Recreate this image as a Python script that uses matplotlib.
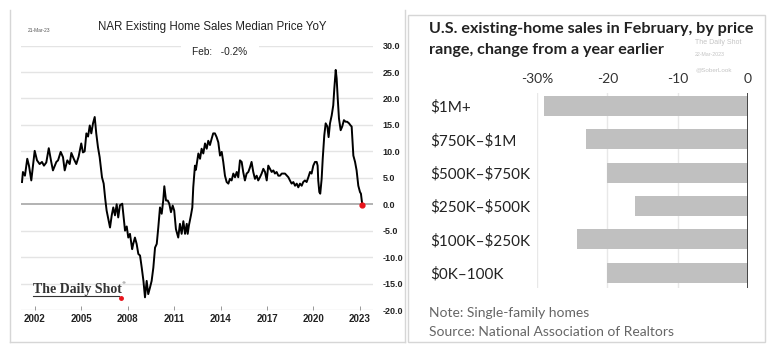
import matplotlib
matplotlib.use('Agg')

import matplotlib.pyplot as plt
from matplotlib.lines import Line2D
from matplotlib.patches import Rectangle

# Left panel: NAR median price YoY (%)
years = [
    2001.16, 2001.22, 2001.35, 2001.50, 2001.61, 2001.76, 2001.98, 2002.13, 2002.30, 2002.45,
    2002.58, 2002.73, 2002.89, 2003.05, 2003.16, 2003.38, 2003.49, 2003.66, 2003.81, 2003.92,
    2004.09, 2004.24, 2004.35, 2004.52, 2004.67, 2004.82, 2004.99, 2005.10, 2005.21, 2005.32,
    2005.43, 2005.54, 2005.64, 2005.75, 2005.86, 2005.96, 2006.07, 2006.18, 2006.33, 2006.44,
    2006.54, 2006.63, 2006.85, 2006.96, 2007.06, 2007.17, 2007.28, 2007.38, 2007.49, 2007.64,
    2007.75, 2007.82, 2007.93, 2008.03, 2008.14, 2008.28, 2008.35, 2008.46, 2008.57, 2008.68,
    2008.79, 2008.90, 2009.01, 2009.11, 2009.22, 2009.32, 2009.43, 2009.54, 2009.65, 2009.76,
    2009.87, 2009.97, 2010.08, 2010.19, 2010.29, 2010.36, 2010.47, 2010.58, 2010.68, 2010.79,
    2010.90, 2011.00, 2011.11, 2011.26, 2011.37, 2011.48, 2011.59, 2011.70, 2011.81, 2011.87,
    2011.95, 2012.08, 2012.17, 2012.23, 2012.34, 2012.40, 2012.56, 2012.67, 2012.77, 2012.88,
    2012.99, 2013.10, 2013.20, 2013.31, 2013.42, 2013.52, 2013.63, 2013.74, 2013.85, 2013.96,
    2014.07, 2014.17, 2014.28, 2014.39, 2014.50, 2014.60, 2014.71, 2014.82, 2014.93, 2015.04,
    2015.14, 2015.25, 2015.36, 2015.46, 2015.57, 2015.68, 2015.79, 2015.90, 2016.00, 2016.11,
    2016.22, 2016.33, 2016.43, 2016.54, 2016.65, 2016.76, 2016.87, 2016.98, 2017.08, 2017.19,
    2017.30, 2017.41, 2017.51, 2017.62, 2017.73, 2017.84, 2017.95, 2018.16, 2018.38, 2018.48,
    2018.59, 2018.70, 2018.81, 2018.92, 2019.02, 2019.13, 2019.24, 2019.34, 2019.45, 2019.56,
    2019.67, 2019.78, 2019.88, 2019.99, 2020.10, 2020.21, 2020.27, 2020.31, 2020.38, 2020.44,
    2020.53, 2020.60, 2020.70, 2020.79, 2020.90, 2020.98, 2021.07, 2021.18, 2021.28, 2021.35,
    2021.44, 2021.50, 2021.57, 2021.65, 2021.76, 2021.86, 2021.97, 2022.08, 2022.18, 2022.30,
    2022.40, 2022.47, 2022.51, 2022.58, 2022.69, 2022.79, 2022.90, 2023.01, 2023.07, 2023.16,
]
yoy = [
    4.2, 6.1, 5.4, 8.6, 7.3, 4.5, 10.1, 8.3, 7.6, 8.0,
    7.3, 7.9, 10.6, 8.0, 6.4, 8.0, 8.3, 9.9, 8.9, 6.4,
    8.3, 7.6, 9.7, 8.5, 7.6, 9.0, 11.5, 9.8, 10.0, 13.4,
    12.8, 14.9, 13.4, 15.3, 16.5, 13.4, 10.8, 8.9, 5.1, 3.9,
    1.0, -1.2, -4.4, -2.1, -0.6, -2.1, 0.0, -2.5, -0.2, 0.1,
    -3.1, -5.0, -4.2, -6.3, -5.6, -8.5, -7.5, -6.3, -7.5, -9.4,
    -9.7, -12.0, -14.5, -17.6, -14.5, -17.0, -15.8, -14.5, -12.0, -8.2,
    -7.5, -4.4, -0.6, -1.8, 0.7, 3.4, 0.7, 0.7, 0.1, -1.5,
    -0.25, -1.2, -4.7, -6.3, -3.7, -5.6, -3.2, -5.6, -3.7, -5.6,
    -4.0, -2.1, -0.6, 3.2, 7.3, 6.5, 9.6, 8.6, 10.5, 9.6,
    11.5, 10.5, 12.0, 11.2, 12.4, 13.4, 13.4, 12.7, 11.7, 9.2,
    9.9, 8.0, 5.4, 4.2, 3.9, 4.8, 4.5, 5.8, 5.1, 6.1,
    5.1, 8.3, 8.0, 6.1, 4.5, 5.8, 6.1, 7.0, 8.0, 6.1,
    4.8, 5.4, 4.5, 5.1, 5.8, 6.7, 6.1, 4.5, 7.3, 6.7,
    6.1, 6.4, 5.8, 6.1, 5.4, 5.4, 5.8, 5.8, 5.1, 4.5,
    3.9, 4.2, 3.5, 3.9, 3.2, 3.9, 3.5, 4.2, 4.5, 4.2,
    5.1, 6.1, 5.8, 7.3, 8.0, 8.0, 7.3, 4.5, 2.3, 2.0,
    4.8, 8.6, 13.0, 15.3, 14.7, 12.7, 15.3, 16.8, 18.7, 21.9,
    25.4, 23.8, 20.0, 16.2, 14.0, 14.7, 15.9, 15.6, 15.6, 15.3,
    14.9, 14.7, 12.7, 9.2, 8.0, 6.4, 3.5, 2.3, 2.0, -0.2,
]
left_yticks = [30, 25, 20, 15, 10, 5, 0, -5, -10, -15, -20]
left_xticks = [2002, 2005, 2008, 2011, 2014, 2017, 2020, 2023]

# Right panel: existing-home sales change by price range (%)
price_ranges = ['$1M+', '$750K–$1M', '$500K–$750K', '$250K–$500K', '$100K–$250K', '$0K–100K']
sales_change = [-29.0, -23.0, -20.0, -16.0, -24.3, -20.0]
right_xticks = [-30, -20, -10, 0]
right_xticklabels = ['-30%', '-20', '-10', '0']

W, H = 771, 348
fig = plt.figure(figsize=(W / 100, H / 100), dpi=100)


def fx(px):
    return px / W


def fy(py):
    return 1 - py / H


# ---- left panel ----
border = '#d6d6d6'
fig.add_artist(Line2D([fx(10), fx(10)], [fy(10), fy(342)], color=border, lw=1))
fig.add_artist(Line2D([fx(405), fx(405)], [fy(10), fy(342)], color=border, lw=1))
fig.add_artist(Line2D([fx(10), fx(405)], [fy(342), fy(342)], color=border, lw=1))

ax1 = fig.add_axes([fx(21), fy(310), fx(373 - 21), fy(45.6) - fy(310)])
for y in left_yticks:
    if y == 0:
        ax1.axhline(y, color='#a6a6a6', lw=1.2, zorder=1)
    else:
        ax1.axhline(y, color='#e4e4e4', lw=1, zorder=1)
ax1.plot(years, yoy, color='black', lw=1.4, zorder=3)
ax1.plot(years[-1], yoy[-1], 'o', color='#e8141c', ms=3.5, zorder=4)
ax1.set_xlim(2001.095, 2023.85)
ax1.set_ylim(-20, 30)
ax1.set_xticks(left_xticks)
ax1.set_xticklabels([str(y) for y in left_xticks], fontsize=7, fontweight='bold',
                    family='Liberation Sans', color='#222222')
ax1.tick_params(axis='x', direction='in', length=3, width=0.6, color='#888888', pad=3)
ax1.yaxis.tick_right()
ax1.set_yticks(left_yticks)
ax1.set_yticklabels([f'{y:.1f}' for y in left_yticks], fontsize=6.5, fontweight='bold',
                    family='Liberation Sans', color='#222222')
ax1.tick_params(axis='y', length=0, pad=7)
for s in ax1.spines.values():
    s.set_visible(False)

fig.text(fx(212), fy(27), 'NAR Existing Home Sales Median Price YoY', ha='center', va='center',
         fontsize=8.3, family='Liberation Sans', color='#222222')
fig.text(fx(28), fy(31), '21-Mar-23', ha='left', va='center', fontsize=3.5,
         family='Liberation Sans', color='#555555')
fig.text(fx(220), fy(52), 'Feb:   -0.2%', ha='center', va='center', fontsize=7.3,
         family='Liberation Sans', color='#222222',
         bbox=dict(boxstyle='square,pad=1.1', fc='white', ec='none'), zorder=5)

# logo
fig.text(fx(33), fy(290), 'The Daily Shot', ha='left', va='center', fontsize=10,
         family='Liberation Serif', fontweight='bold', color='#333333')
fig.text(fx(121), fy(283), '®', ha='left', va='center', fontsize=3, color='#333333')
fig.add_artist(Line2D([fx(33), fx(119)], [fy(296), fy(296)], color='#333333', lw=0.8))
fig.add_artist(Line2D([fx(121)], [fy(297.5)], marker='o', color='#e8141c', ms=2.5, lw=0))

# ---- right panel ----
fig.add_artist(Rectangle((fx(408), fy(342)), fx(765 - 408), fy(15) - fy(342),
                         fill=False, ec=border, lw=1))

ax2 = fig.add_axes([fx(537), fy(288), fx(748 - 537), fy(93) - fy(288)])
pos = list(range(len(price_ranges)))
ax2.barh(pos, sales_change, height=0.6, color='#c0c0c0', zorder=2)
for x in right_xticks[:-1]:
    ax2.axvline(x, color='#e8e8e8', lw=1, zorder=1)
ax2.axvline(0, color='#444444', lw=1.4, zorder=3)
ax2.set_xlim(-30, 0)
ax2.set_ylim(5.46, -0.39)
ax2.xaxis.tick_top()
ax2.set_xticks(right_xticks)
ax2.set_xticklabels(right_xticklabels, fontsize=10, family='Lato', color='#333333')
ax2.tick_params(axis='x', length=0, pad=6)
ax2.set_yticks(pos)
ax2.set_yticklabels([p.replace('$', r'\$') for p in price_ranges], fontsize=11,
                    family='Lato', color='#222222')
ax2.tick_params(axis='y', length=0, pad=77)
for lab in ax2.get_yticklabels():
    lab.set_ha('left')
for s in ax2.spines.values():
    s.set_visible(False)

fig.text(fx(429), fy(29), 'U.S. existing-home sales in February, by price', ha='left', va='center',
         fontsize=11.6, fontweight='bold', family='Lato', color='#222222')
fig.text(fx(429), fy(50), 'range, change from a year earlier', ha='left', va='center',
         fontsize=11.6, fontweight='bold', family='Lato', color='#222222')
fig.text(fx(695), fy(42), 'The Daily Shot', ha='left', va='center', fontsize=5,
         family='Liberation Sans', color='#c4c4c4')
fig.text(fx(695), fy(55), '22-Mar-2023', ha='left', va='center', fontsize=3.8,
         family='Liberation Sans', color='#c4c4c4')
fig.text(fx(695), fy(70), '@SoberLook', ha='left', va='center', fontsize=4.5,
         family='Liberation Sans', color='#c4c4c4')
fig.text(fx(429), fy(313), 'Note: Single-family homes', ha='left', va='center', fontsize=10,
         family='Lato', color='#666666')
fig.text(fx(429), fy(332), 'Source: National Association of Realtors', ha='left', va='center',
         fontsize=10, family='Lato', color='#666666')

fig.savefig('out.png', dpi=100)
